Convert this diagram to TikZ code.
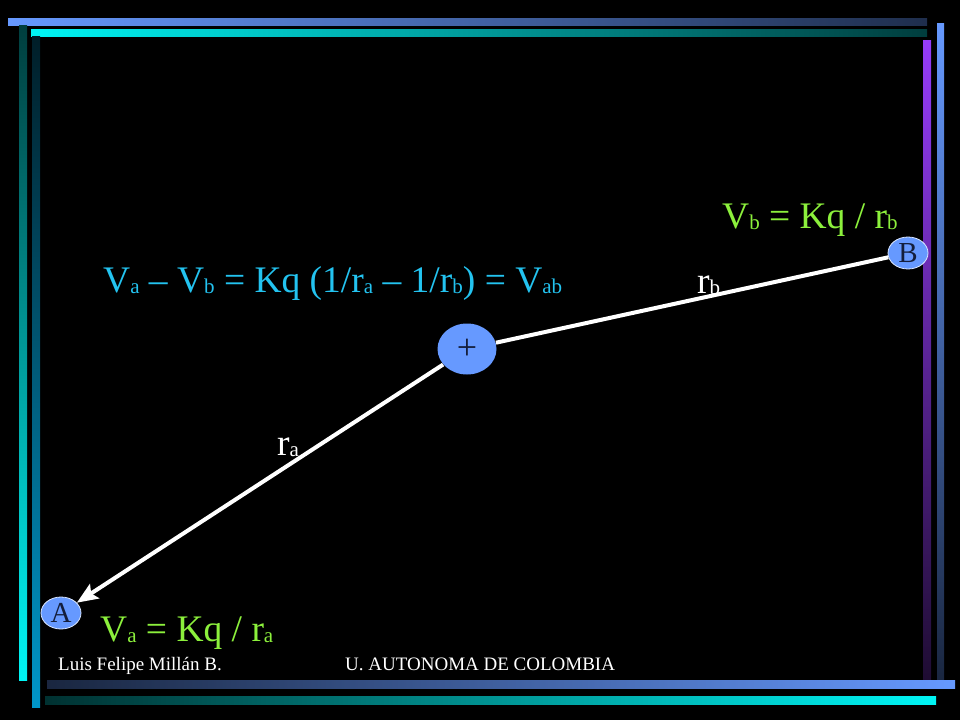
\documentclass[tikz,border=0pt]{standalone}
\usepackage{fontspec}
\setmainfont{Liberation Serif}
\usetikzlibrary{shapes.geometric}
\usetikzlibrary{arrows.meta}

\definecolor{ballblue}{RGB}{102,153,255}
\definecolor{eqblue}{RGB}{35,195,240}
\definecolor{eqgreen}{RGB}{140,240,60}
\definecolor{barcyan}{RGB}{0,245,245}
\definecolor{barteal}{RGB}{0,150,200}
\definecolor{barpurple}{RGB}{150,60,250}
\definecolor{plusink}{RGB}{20,30,60}

\newcommand{\low}[1]{\raisebox{-1pt}{\fontsize{21}{21}\selectfont #1}}

\tikzset{
  charge/.style={ellipse, fill=ballblue, draw=white!75!ballblue, line width=0.8pt,
    inner sep=0pt, text=plusink, font=\fontsize{29}{29}\selectfont},
  wire/.style={white, line width=4pt},
  big/.style={anchor=base west, inner sep=0pt, font=\fontsize{37.5}{40}\selectfont},
  foot/.style={anchor=base west, inner sep=0pt, white, font=\fontsize{19}{20}\selectfont}
}

\begin{document}
\begin{tikzpicture}[x=1pt,y=-1pt]
\fill[black] (0,0) rectangle (960,720);
\useasboundingbox (0,0) rectangle (960,720);

% frame bars
\shade[left color=ballblue, right color=ballblue!30!black] (8,18) rectangle (927,25);
\shade[left color=barcyan, right color=barcyan!25!black] (31,29) rectangle (927,36);
\shade[top color=barcyan!25!black, bottom color=barcyan] (19,25) rectangle (27,680);
\shade[top color=barteal!20!black, bottom color=barteal] (32,36) rectangle (40,707);
\shade[top color=barpurple, bottom color=barpurple!20!black] (923,40) rectangle (931,680);
\shade[top color=ballblue, bottom color=ballblue!25!black] (937,23) rectangle (944,680);
\shade[left color=ballblue!25!black, right color=ballblue] (47,680) rectangle (955,688);
\shade[left color=barcyan!20!black, right color=barcyan] (45,696) rectangle (936,704);

% charges
\node[charge, draw=none, minimum width=59pt, minimum height=51pt,
  font=\fontsize{36}{36}\selectfont] (plus) at (467,349) {+};
\node[charge, minimum width=40pt, minimum height=32pt] (ptA) at (61,613) {A};
\node[charge, minimum width=40pt, minimum height=32pt] (ptB) at (908,253) {B};

\draw[wire] (plus) -- (ptB);
\draw[wire, -{Stealth[length=21pt, width=17pt, inset=4pt]}] (plus) -- (ptA);

% labels
\node[big, eqblue] (eqab) at (103,292) {V\low{a} – V\low{b} = Kq (1/r\low{a} – 1/r\low{b}) = V\low{ab}};
\node[big, eqgreen] (eqb) at (722,228) {V\low{b} = Kq / r\low{b}};
\node[big, eqgreen] (eqa) at (100,641) {V\low{a} = Kq / r\low{a}};
\node[big, white] (lblb) at (697,293) {r\low{b}};
\node[big, white] (lbla) at (277,455) {r\low{a}};

\node[foot] (author) at (58,670) {Luis Felipe Millán B.};
\node[foot] (school) at (345,670) {U. AUTONOMA DE COLOMBIA};
\end{tikzpicture}
\end{document}
